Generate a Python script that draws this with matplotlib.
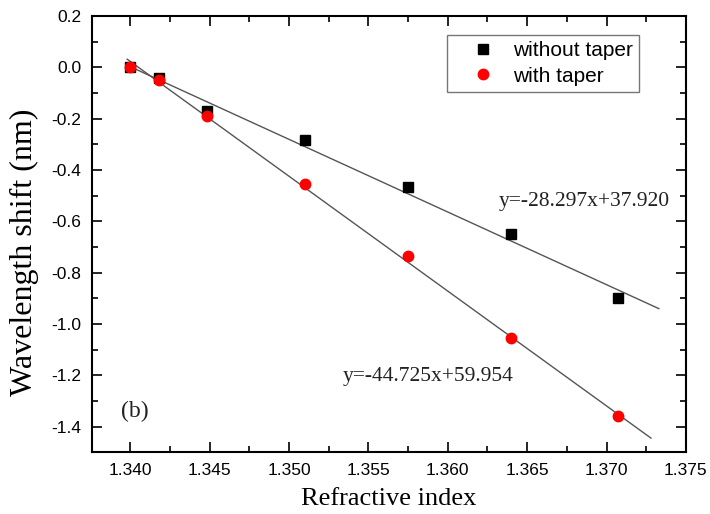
import numpy as np
import matplotlib.pyplot as plt

# refractive index of the measured solutions
ri = [1.3400, 1.3418, 1.3448, 1.3510, 1.3575, 1.3640, 1.3707]
# wavelength shift (nm)
shift_no_taper = [0.0, -0.04, -0.17, -0.285, -0.465, -0.65, -0.90]
shift_taper = [0.0, -0.05, -0.19, -0.455, -0.735, -1.055, -1.36]

# linear fits as printed on the chart
fit_no_taper = (-28.297, 37.920)
fit_taper = (-44.725, 59.954)
fit_range_no_taper = (1.3398, 1.3733)
fit_range_taper = (1.3398, 1.3728)

x_ticks = [1.340, 1.345, 1.350, 1.355, 1.360, 1.365, 1.370, 1.375]
y_ticks = [-1.4, -1.2, -1.0, -0.8, -0.6, -0.4, -0.2, 0.0, 0.2]

fig, ax = plt.subplots(figsize=(7.1, 5.14), dpi=100)
fig.subplots_adjust(left=0.13, right=0.966, top=0.969, bottom=0.12)

for (k, b), (x0, x1) in [(fit_no_taper, fit_range_no_taper), (fit_taper, fit_range_taper)]:
    xs = np.array([x0, x1])
    ax.plot(xs, k * xs + b, color="#555555", lw=1.0, zorder=2)

ax.plot(ri, shift_no_taper, "s", color="black", ms=6.5, ls="none", label="without taper", zorder=3)
ax.plot(ri, shift_taper, "o", color="red", ms=7.5, ls="none", label="with taper", zorder=4)

ax.set_xlim(1.3376, 1.375)
ax.set_ylim(-1.5, 0.2)
ax.set_xticks(x_ticks)
ax.set_xticks([t + 0.0025 for t in x_ticks[:-1]], minor=True)
ax.set_yticks(y_ticks)
ax.set_yticks([t - 0.1 for t in y_ticks], minor=True)
ax.set_xticklabels([f"{t:.3f}" for t in x_ticks])
ax.set_yticklabels([f"{t:.1f}" for t in y_ticks])

ax.tick_params(which="both", direction="in", top=True, right=True, width=1.2,
               labelsize=12.5, labelfontfamily="Liberation Sans")
ax.tick_params(which="major", length=7, pad=8)
ax.tick_params(which="minor", length=4)
for sp in ax.spines.values():
    sp.set_linewidth(1.5)

ax.set_xlabel("Refractive index", fontsize=19, family="Liberation Serif", labelpad=7)
ax.set_ylabel("Wavelength shift (nm)", fontsize=23, family="Liberation Serif")
ax.yaxis.set_label_coords(-0.09, 0.458)

ax.text(1.3632, -0.541, "y=-28.297x+37.920", fontsize=15.5, family="Liberation Serif", color="#222222")
ax.text(1.3534, -1.223, "y=-44.725x+59.954", fontsize=15.5, family="Liberation Serif", color="#222222")
ax.text(1.3394, -1.363, "(b)", fontsize=17, family="Liberation Serif", color="#222222")

leg = ax.legend(loc="upper left", bbox_to_anchor=(0.598, 0.956), borderaxespad=0,
                fancybox=False, edgecolor="#555555",
                prop={"family": "Liberation Sans", "size": 15},
                handletextpad=0.05, borderpad=0.3, labelspacing=0.3, handlelength=2.8)
leg.get_frame().set_linewidth(1.0)

fig.savefig("out.png", dpi=100)
